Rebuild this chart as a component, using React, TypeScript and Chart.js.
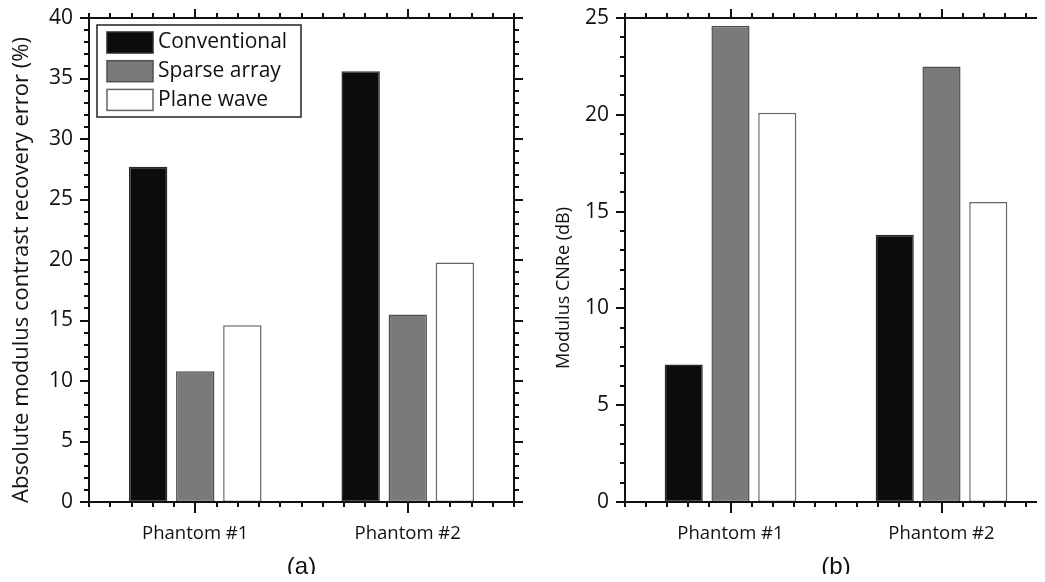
import React, { useEffect, useRef } from "react";
import { Chart, registerables } from "chart.js";

Chart.register(...registerables);

// ---------- data ----------
const categories = ["Phantom #1", "Phantom #2"];
const seriesNames = ["Conventional", "Sparse array", "Plane wave"];

const errorConventional = [27.7, 35.6];
const errorSparse = [10.8, 15.5];
const errorPlane = [14.6, 19.8];

const cnrConventional = [7.1, 13.8];
const cnrSparse = [24.6, 22.5];
const cnrPlane = [20.1, 15.5];

const errorAxisMax = 40;
const cnrAxisMax = 25;
const majorStep = 5;
const minorStep = 1;

const errorTitle = "Absolute modulus contrast recovery error (%)";
const cnrTitle = "Modulus CNRe (dB)";
const panelLabels = ["(a)", "(b)"];

// ---------- styles ----------
const fills = ["#0c0c0c", "#7a7a7a", "#ffffff"];
const borders = ["#2a2a2a", "#4f4f4f", "#666666"];
const FONT = "'Open Sans', 'Noto Sans', sans-serif";
const INK = "#111111";

const framePlugin = {
  id: "frameTicks",
  afterDatasetsDraw(chart: any) {
    const { ctx, chartArea: a, scales } = chart;
    const xs = scales.x;
    const ys = scales.y;
    ctx.save();
    ctx.strokeStyle = INK;
    ctx.lineWidth = 2;
    ctx.lineCap = "butt";
    ctx.strokeRect(a.left, a.top, a.right - a.left, a.bottom - a.top);
    const line = (x1: number, y1: number, x2: number, y2: number) => {
      ctx.beginPath();
      ctx.moveTo(x1, y1);
      ctx.lineTo(x2, y2);
      ctx.stroke();
    };
    for (let v = ys.min; v <= ys.max + 1e-9; v += minorStep) {
      const py = Math.round(ys.getPixelForValue(v));
      const major = Math.abs(v % majorStep) < 1e-9;
      const len = major ? 9 : 5;
      line(a.left - len, py, a.left, py);
      line(a.right, py, a.right + len, py);
    }
    const c0 = xs.getPixelForValue(0);
    const c1 = xs.getPixelForValue(1);
    const step = (c1 - c0) / 10;
    const n = Math.round((a.right - a.left) / step);
    const majors = [c0, c1];
    for (let i = 0; i <= n; i++) {
      const exact = a.left + i * step;
      const px = Math.round(exact);
      const major = majors.some((m) => Math.abs(m - exact) < 1);
      line(px, a.bottom, px, a.bottom + (major ? 11 : 5));
      line(px, a.top, px, a.top - (major ? 9 : 5));
    }
    ctx.restore();
  },
};

const legendBoxPlugin = {
  id: "legendBox",
  afterDatasetsDraw(chart: any, _args: any, opts: any) {
    if (!opts || !opts.show) return;
    const { ctx, chartArea: a } = chart;
    const bx = a.left + 8;
    const by = a.top + 7;
    const bw = 204;
    const bh = 92;
    ctx.save();
    ctx.fillStyle = "#ffffff";
    ctx.fillRect(bx, by, bw, bh);
    ctx.strokeStyle = "#222222";
    ctx.lineWidth = 1.5;
    ctx.strokeRect(bx, by, bw, bh);
    ctx.font = `21px ${FONT}`;
    ctx.textBaseline = "middle";
    ctx.textAlign = "left";
    chart.data.datasets.forEach((ds: any, i: number) => {
      const sy = by + 7 + i * 28.7;
      ctx.fillStyle = ds.backgroundColor;
      ctx.fillRect(bx + 10, sy, 46, 21);
      ctx.strokeStyle = ds.borderColor;
      ctx.lineWidth = 1.5;
      ctx.strokeRect(bx + 10, sy, 46, 21);
      ctx.fillStyle = INK;
      ctx.fillText(ds.label, bx + 61, sy + 10.5);
    });
    ctx.restore();
  },
};

const yTitlePlugin = {
  id: "yTitleText",
  afterDraw(chart: any, _args: any, opts: any) {
    if (!opts || !opts.text) return;
    const { ctx, chartArea: a } = chart;
    ctx.save();
    ctx.translate(opts.x, (a.top + a.bottom) / 2 + opts.dy);
    ctx.rotate(-Math.PI / 2);
    ctx.font = `${opts.size}px ${FONT}`;
    ctx.fillStyle = INK;
    ctx.textAlign = "center";
    ctx.textBaseline = "middle";
    ctx.fillText(opts.text, 0, 0);
    ctx.restore();
  },
};

function makeConfig(
  values: number[][],
  yMax: number,
  yWidth: number,
  padRight: number,
  title: string,
  titleSize: number,
  titleX: number,
  titleDy: number,
  panel: string,
  showLegend: boolean
): any {
  return {
    type: "bar",
    data: {
      labels: categories,
      datasets: seriesNames.map((name, i) => ({
        label: name,
        data: values[i],
        backgroundColor: fills[i],
        borderColor: borders[i],
        borderWidth: 1.5,
        borderSkipped: false,
        categoryPercentage: 0.665,
        barPercentage: 0.815,
      })),
    },
    options: {
      responsive: false,
      animation: false,
      layout: { padding: { top: 18, right: padRight, left: 0, bottom: 0 } },
      plugins: {
        legend: { display: false },
        tooltip: { enabled: false },
        legendBox: { show: showLegend },
        yTitleText: { text: title, size: titleSize, x: titleX, dy: titleDy },
      },
      scales: {
        x: {
          offset: true,
          grid: { display: false, drawTicks: false },
          border: { display: false },
          ticks: {
            color: INK,
            font: { family: FONT, size: 18.5 },
            padding: 21,
            maxRotation: 0,
          },
          title: {
            display: true,
            text: panel,
            color: INK,
            font: { family: "'Liberation Sans', Arial, sans-serif", size: 24 },
            padding: { top: 0, bottom: 0 },
          },
          afterFit: (s: any) => {
            s.height = 80;
            s.paddingLeft = 0;
            s.paddingRight = 0;
          },
        },
        y: {
          min: 0,
          max: yMax,
          grid: { display: false, drawTicks: false },
          border: { display: false },
          ticks: {
            stepSize: majorStep,
            color: INK,
            font: { family: FONT, size: 21 },
            padding: 16,
          },
          afterFit: (s: any) => {
            s.width = yWidth;
            s.paddingTop = 0;
            s.paddingBottom = 0;
          },
        },
      },
    },
    plugins: [framePlugin, legendBoxPlugin, yTitlePlugin],
  };
}

export default function App() {
  const leftRef = useRef<HTMLCanvasElement | null>(null);
  const rightRef = useRef<HTMLCanvasElement | null>(null);

  useEffect(() => {
    const c1 = new Chart(
      leftRef.current as HTMLCanvasElement,
      makeConfig(
        [errorConventional, errorSparse, errorPlane],
        errorAxisMax,
        89,
        26,
        errorTitle,
        22,
        22,
        10,
        panelLabels[0],
        true
      )
    );
    const c2 = new Chart(
      rightRef.current as HTMLCanvasElement,
      makeConfig(
        [cnrConventional, cnrSparse, cnrPlane],
        cnrAxisMax,
        85,
        3,
        cnrTitle,
        18,
        24,
        28,
        panelLabels[1],
        false
      )
    );
    return () => {
      c1.destroy();
      c2.destroy();
    };
  }, []);

  return (
    <div
      style={{
        position: "relative",
        width: 1045,
        height: 582,
        margin: -8,
        overflow: "hidden",
        background: "#ffffff",
      }}
    >
      <canvas
        ref={leftRef}
        width={540}
        height={582}
        style={{ position: "absolute", left: 0, top: 0, display: "block" }}
      />
      <canvas
        ref={rightRef}
        width={510}
        height={582}
        style={{ position: "absolute", left: 540, top: 0, display: "block" }}
      />
    </div>
  );
}
